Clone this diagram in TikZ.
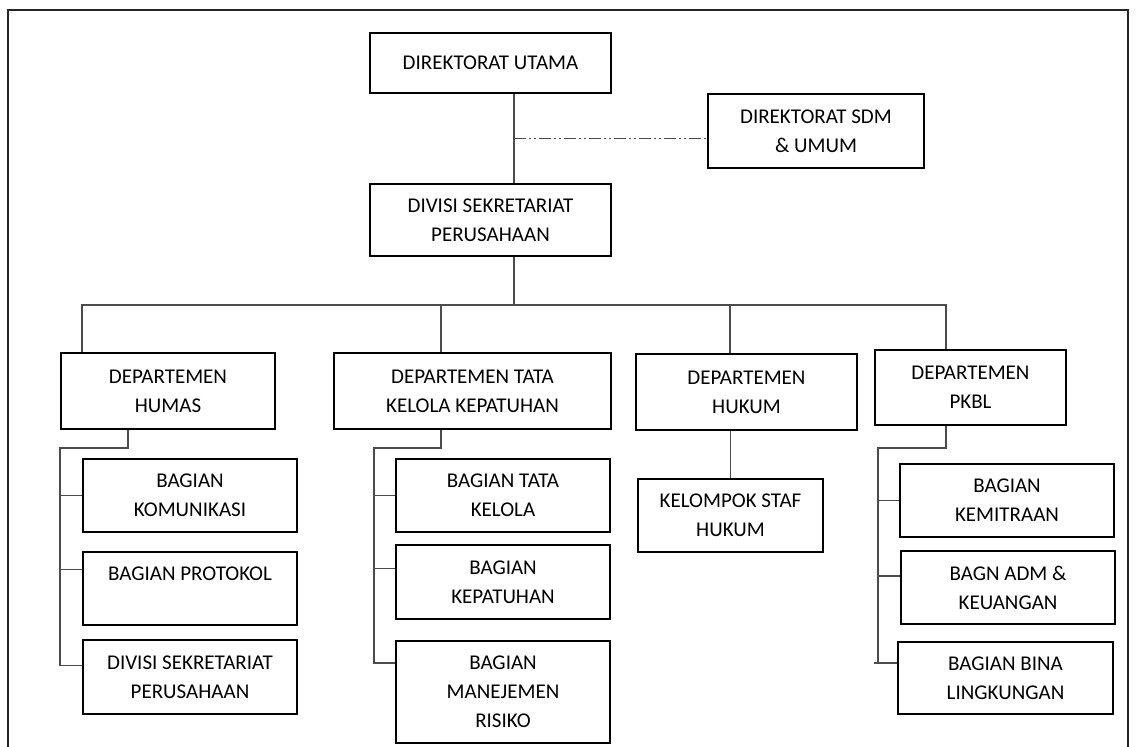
\documentclass[tikz,border=0pt]{standalone}
\usepackage{fontspec}
\setmainfont{Carlito}
\usepackage{tikz}
\usetikzlibrary{positioning}

\begin{document}
\begin{tikzpicture}[x=1pt, y=-1pt]
	\tikzset{box/.style={draw, line width=2pt, anchor=north west, inner sep=0pt, align=center, font=\fontsize{21}{29}\selectfont}}
	\tikzset{link/.style={draw=black!70, line width=1.5pt}}
	\tikzset{staff/.style={link, dash pattern=on 12pt off 3pt on 2pt off 3pt on 2pt off 3pt}}

	\useasboundingbox (0,0) rectangle (1136,747);
	\clip (0,0) rectangle (1136,747);
	\draw[line width=2.5pt, black!85] (8,760) -- (8,10) -- (1128,10) -- (1128,760);

	% pimpinan
	\node (du) [box, minimum width=241pt, minimum height=60pt] at (369,32) {DIREKTORAT UTAMA};
	\node (sdm) [box, minimum width=216pt, minimum height=74pt] at (707,93) {DIREKTORAT SDM\\ \& UMUM};
	\node (sekper) [box, minimum width=241pt, minimum height=72pt] at (369,183) {DIVISI SEKRETARIAT\\PERUSAHAAN};

	% departemen
	\node (humas) [box, minimum width=214pt, minimum height=76pt] at (60,352) {DEPARTEMEN\\HUMAS};
	\node (tata) [box, minimum width=277pt, minimum height=76pt] at (333,352) {DEPARTEMEN TATA\\KELOLA KEPATUHAN};
	\node (hukum) [box, minimum width=221pt, minimum height=76pt] at (635,353) {DEPARTEMEN\\HUKUM};
	\node (pkbl) [box, minimum width=191pt, minimum height=75pt] at (874,349) {DEPARTEMEN\\PKBL};

	% bagian
	\node (komunikasi) [box, minimum width=214pt, minimum height=73pt] at (82,458) {BAGIAN\\KOMUNIKASI};
	\node (protokol) [box, minimum width=214pt, minimum height=73pt] at (82,551) {BAGIAN PROTOKOL\\\mbox{}};
	\node (sekper2) [box, minimum width=214pt, minimum height=74pt] at (82,639) {DIVISI SEKRETARIAT\\PERUSAHAAN};
	\node (tatakelola) [box, minimum width=214pt, minimum height=73pt] at (395,458) {BAGIAN TATA\\KELOLA};
	\node (kepatuhan) [box, minimum width=214pt, minimum height=74pt] at (395,544) {BAGIAN\\KEPATUHAN};
	\node (risiko) [box, minimum width=214pt, minimum height=102pt] at (395,640) {BAGIAN\\MANEJEMEN\\RISIKO};
	\node (stafhukum) [box, minimum width=185pt, minimum height=73pt] at (637,478) {KELOMPOK STAF\\HUKUM};
	\node (kemitraan) [box, minimum width=214pt, minimum height=73pt] at (899,463) {BAGIAN\\KEMITRAAN};
	\node (keuangan) [box, minimum width=214pt, minimum height=73pt] at (900,550) {BAGN ADM \&\\KEUANGAN};
	\node (bina) [box, minimum width=215pt, minimum height=72pt] at (897,641) {BAGIAN BINA\\LINGKUNGAN};

	\coordinate (trunk) at (514,305);
	\coordinate (hdrop) at (82,305);
	\coordinate (tdrop) at (441,305);
	\coordinate (kdrop) at (730,305);
	\coordinate (pdrop) at (946,305);
	\coordinate (hfork) at (128,448);
	\coordinate (hspine) at (60,448);
	\coordinate (tfork) at (441,448);
	\coordinate (tspine) at (374,448);
	\coordinate (pfork) at (946,448);
	\coordinate (pspine) at (878,448);

	\draw[link] (du.south -| trunk) -- (sekper.north -| trunk);
	\draw[staff] (trunk |- sdm.184) -- (sdm.184);
	\draw[link] (sekper.south -| trunk) -- (trunk);
	\draw[link] (humas.north -| hdrop) -- (hdrop) -- (pdrop) -- (pkbl.north -| pdrop);
	\draw[link] (tdrop) -- (tata.north -| tdrop);
	\draw[link] (kdrop) -- (hukum.north -| kdrop);

	% humas
	\draw[link] (humas.south -| hfork) -- (hfork) -- (hspine) |- (sekper2.174);
	\draw[link] (hspine |- komunikasi.west) -- (komunikasi.west);
	\draw[link] (hspine |- protokol.170) -- (protokol.170);

	% tata kelola
	\draw[link] (tata.south -| tfork) -- (tfork) -- (tspine) |- (risiko.165);
	\draw[link] (tspine |- tatakelola.west) -- (tatakelola.west);
	\draw[link] (tspine |- kepatuhan.173) -- (kepatuhan.173);

	% hukum
	\draw[link] (hukum.south -| stafhukum.north) -- (stafhukum.north);

	% pkbl
	\draw[link] (pkbl.south -| pfork) -- (pfork) -- (pspine) -- (pspine |- bina.172);
	\draw[link] ([xshift=-4pt]pspine |- bina.172) -- (bina.172);
	\draw[link] (pspine |- kemitraan.west) -- (kemitraan.west);
	\draw[link] (pspine |- keuangan.174) -- (keuangan.174);
\end{tikzpicture}
\end{document}
